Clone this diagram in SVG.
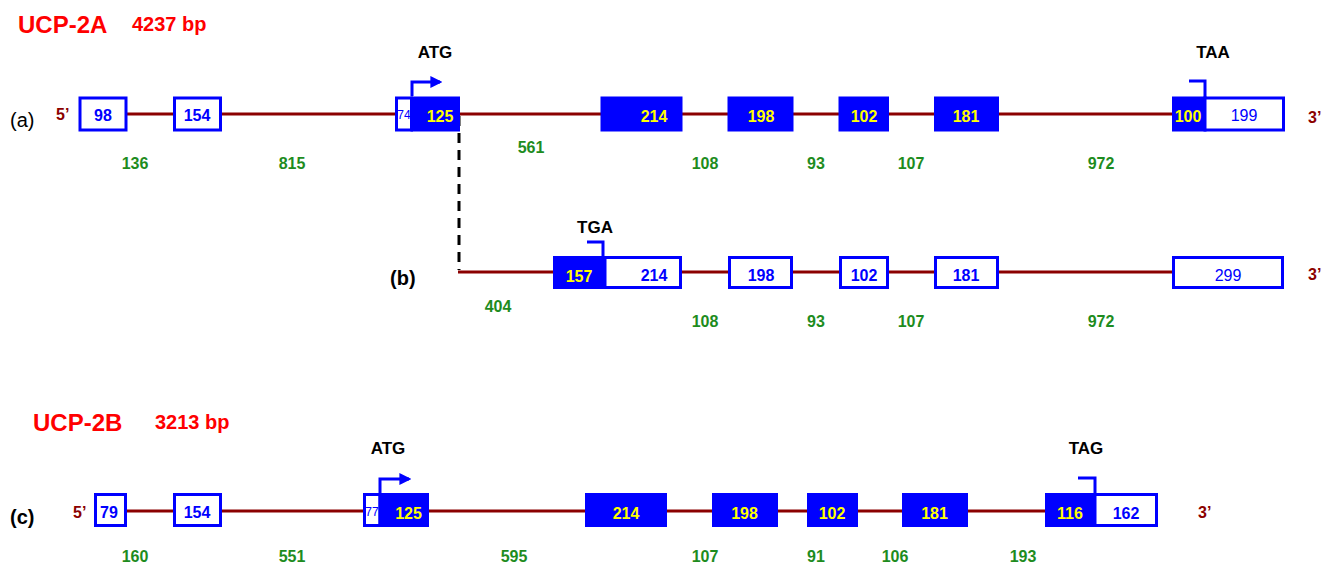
<svg xmlns="http://www.w3.org/2000/svg" width="1322" height="565" viewBox="0 0 1322 565">
<style>
text{font-family:"Liberation Sans",Arial,sans-serif}
.ttl{fill:#ff0000;font-weight:bold;font-size:24px}
.bp{fill:#ff0000;font-weight:bold;font-size:20px}
.cod{fill:#000;font-weight:bold;font-size:17px;text-anchor:middle}
.lab{fill:#000;font-size:20px}
.end{fill:#8b0000;font-weight:bold;font-size:16px}
.gr{fill:#1e8c1e;font-weight:bold;font-size:16px;text-anchor:middle}
.ob{fill:#fff;stroke:#0000ff;stroke-width:3}
.fb{fill:#0000ff;stroke:#0000ff;stroke-width:3}
.bt{fill:#0000ff;font-weight:bold;font-size:16px;text-anchor:middle}
.bn{fill:#0000ff;font-size:16px;text-anchor:middle}
.sm{fill:#0000ff;font-size:12px;text-anchor:middle}
.yt{fill:#ffff00;font-weight:bold;font-size:16px;text-anchor:middle}
.intr{stroke:#8b0000;stroke-width:3;fill:none}
.dash{stroke:#000;stroke-width:3;stroke-dasharray:10,7;fill:none}
.br{stroke:#0000ff;stroke-width:3;fill:none}
</style>
<defs>
<marker id="ah" viewBox="0 0 10 10" refX="8" refY="5" markerWidth="4" markerHeight="4" orient="auto" markerUnits="strokeWidth">
<path d="M0,0 L10,5 L0,10 z" fill="#0000ff"/>
</marker>
</defs>

<g id="titles">
<text class="ttl" x="18" y="33">UCP-2A</text>
<text class="bp" x="132" y="31">4237 bp</text>
<text class="ttl" x="33" y="431">UCP-2B</text>
<text class="bp" x="155" y="429">3213 bp</text>
</g>

<g id="connectors">
<line class="intr" x1="127" y1="114" x2="1173" y2="114"/>
<path class="dash" d="M459,116 L459,270"/>
<line class="intr" x1="458" y1="272" x2="1173" y2="272"/>
<line class="intr" x1="127" y1="511" x2="1046" y2="511"/>
<path class="br" d="M412,96 V82 H440" marker-end="url(#ah)"/>
<path class="br" d="M1189,81 H1205 V97"/>
<path class="br" d="M587,242 H603 V256"/>
<path class="br" d="M380,493 V479 H409" marker-end="url(#ah)"/>
<path class="br" d="M1078,478 H1095 V493"/>
</g>

<g id="rowA">
<text class="lab" x="10" y="127">(a)</text>
<text class="end" x="56" y="120">5’</text>
<text class="end" x="1308" y="123">3’</text>
<text class="cod" x="435" y="58">ATG</text>
<text class="cod" x="1213" y="58">TAA</text>
<g id="a98"><rect class="ob" x="80" y="98" width="46" height="32"/><text class="bt" x="103" y="121">98</text></g>
<g id="a154"><rect class="ob" x="174.5" y="98" width="46" height="32"/><text class="bt" x="197" y="121">154</text></g>
<g id="a74"><rect class="ob" x="396.5" y="98" width="15" height="32"/><text class="sm" x="404" y="119">74</text></g>
<g id="a125"><rect class="fb" x="412" y="98" width="46.5" height="32"/><text class="yt" x="440" y="122">125</text></g>
<g id="a214"><rect class="fb" x="602" y="98" width="79" height="32"/><text class="yt" x="654" y="122">214</text></g>
<g id="a198"><rect class="fb" x="729" y="98" width="63" height="32"/><text class="yt" x="761" y="122">198</text></g>
<g id="a102"><rect class="fb" x="840" y="98" width="47.5" height="32"/><text class="yt" x="864" y="122">102</text></g>
<g id="a181"><rect class="fb" x="935.5" y="98" width="62" height="32"/><text class="yt" x="966" y="122">181</text></g>
<g id="a100"><rect class="fb" x="1173.5" y="98" width="31.5" height="32"/><text class="yt" x="1188" y="122">100</text></g>
<g id="a199"><rect class="ob" x="1205" y="98" width="78.5" height="32"/><text class="bn" x="1244" y="121">199</text></g>
<g id="aIntrons">
<text class="gr" x="135" y="169">136</text>
<text class="gr" x="292" y="169">815</text>
<text class="gr" x="531" y="153">561</text>
<text class="gr" x="705" y="169">108</text>
<text class="gr" x="816" y="169">93</text>
<text class="gr" x="911" y="169">107</text>
<text class="gr" x="1101" y="169">972</text>
</g>
</g>

<g id="rowB">
<text class="lab" x="390" y="285" font-weight="bold">(b)</text>
<text class="end" x="1308" y="280">3’</text>
<text class="cod" x="595" y="233">TGA</text>
<g id="b157"><rect class="fb" x="554.5" y="257.5" width="50.5" height="30"/><text class="yt" x="579" y="282">157</text></g>
<g id="b214"><rect class="ob" x="605" y="257.5" width="75.5" height="30"/><text class="bt" x="654" y="281">214</text></g>
<g id="b198"><rect class="ob" x="729.5" y="257.5" width="62" height="30"/><text class="bt" x="761" y="281">198</text></g>
<g id="b102"><rect class="ob" x="840.5" y="257.5" width="47" height="30"/><text class="bt" x="864" y="281">102</text></g>
<g id="b181"><rect class="ob" x="935.5" y="257.5" width="62" height="30"/><text class="bt" x="966" y="281">181</text></g>
<g id="b299"><rect class="ob" x="1173.5" y="257.5" width="109" height="30"/><text class="bn" x="1228" y="281">299</text></g>
<g id="bIntrons">
<text class="gr" x="498" y="312">404</text>
<text class="gr" x="705" y="327">108</text>
<text class="gr" x="816" y="327">93</text>
<text class="gr" x="911" y="327">107</text>
<text class="gr" x="1101" y="327">972</text>
</g>
</g>

<g id="rowC">
<text class="lab" x="10" y="524" font-weight="bold">(c)</text>
<text class="end" x="73" y="518">5’</text>
<text class="end" x="1198" y="518">3’</text>
<text class="cod" x="388" y="454">ATG</text>
<text class="cod" x="1086" y="454">TAG</text>
<g id="c79"><rect class="ob" x="95.5" y="494.5" width="30" height="31"/><text class="bt" x="109" y="518">79</text></g>
<g id="c154"><rect class="ob" x="174.5" y="494.5" width="46" height="31"/><text class="bt" x="197" y="518">154</text></g>
<g id="c77"><rect class="ob" x="364.5" y="494.5" width="15.5" height="31"/><text class="sm" x="372" y="516">77</text></g>
<g id="c125"><rect class="fb" x="380" y="494.5" width="47.5" height="31"/><text class="yt" x="408.5" y="519">125</text></g>
<g id="c214"><rect class="fb" x="586.5" y="494.5" width="79" height="31"/><text class="yt" x="626" y="519">214</text></g>
<g id="c198"><rect class="fb" x="713.5" y="494.5" width="63" height="31"/><text class="yt" x="744.5" y="519">198</text></g>
<g id="c102"><rect class="fb" x="808.5" y="494.5" width="48" height="31"/><text class="yt" x="832" y="519">102</text></g>
<g id="c181"><rect class="fb" x="903.5" y="494.5" width="63" height="31"/><text class="yt" x="934.5" y="519">181</text></g>
<g id="c116"><rect class="fb" x="1046.5" y="494.5" width="48.5" height="31"/><text class="yt" x="1070" y="519">116</text></g>
<g id="c162"><rect class="ob" x="1095" y="494.5" width="61.5" height="31"/><text class="bt" x="1126" y="519">162</text></g>
<g id="cIntrons">
<text class="gr" x="135" y="562">160</text>
<text class="gr" x="292" y="562">551</text>
<text class="gr" x="514" y="562">595</text>
<text class="gr" x="705" y="562">107</text>
<text class="gr" x="816" y="562">91</text>
<text class="gr" x="895" y="562">106</text>
<text class="gr" x="1023" y="562">193</text>
</g>
</g>
</svg>
